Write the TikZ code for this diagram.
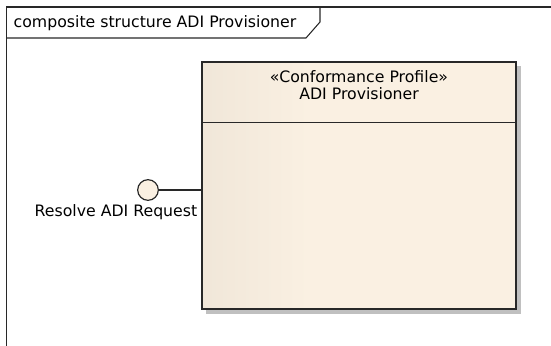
\documentclass[tikz,border=0pt]{standalone}
\usepackage{fontspec}
\setmainfont{DejaVu Sans}
\usetikzlibrary{positioning}
\definecolor{beigelight}{RGB}{250, 240, 226}
\definecolor{beigedark}{RGB}{226, 217, 203}
\definecolor{framegray}{RGB}{40, 40, 40}
\definecolor{shadowgray}{RGB}{192, 192, 192}
\pgfdeclarehorizontalshading{beigefade}{100bp}{color(0bp)=(beigedark); color(42bp)=(beigelight); color(100bp)=(beigelight)}
\tikzset{
  diagtext/.style={font=\fontsize{11.8}{12.3}\selectfont, text=black},
  classbox/.style={draw=framegray, line width=1.1pt, shading=beigefade,
                   minimum width=235.5pt, minimum height=185pt, inner sep=0pt},
  portcircle/.style={circle, draw=framegray, line width=0.9pt, fill=beigelight,
                     minimum size=15.5pt, inner sep=0pt},
}

\begin{document}
\begin{tikzpicture}[x=0.75pt, y=-0.75pt]
            \useasboundingbox (0,0) rectangle (551,346);
            % frame and its name tab
            \draw[framegray, line width=0.9pt] (6.5,346) -- (6.5,7) -- (551,7);
            \node[diagtext, anchor=west] (frametitle) at (9,23) {composite structure ADI Provisioner};
            \draw[framegray, line width=0.8pt] (6.5,38) -- (306,38) -- (320,22) -- (320,7);
            % the part with its shadow
            \fill[shadowgray]                                              (206,66) rectangle (521,314);
            \node[classbox] (prov) at (359,185.5) {};
            \draw[framegray, line width=1.1pt] ([yshift=-45.75pt]prov.north west) -- ([yshift=-45.75pt]prov.north east);
            \node[diagtext, align=center, anchor=north] (provname) at ([yshift=-3.5pt]prov.north)
                 {«Conformance Profile»\\ADI Provisioner};
            % provided interface
            \node[portcircle] (iface) at (148,190) {};
            \draw[framegray, line width=0.9pt] (iface) -- (iface -| prov.west);
            \node[diagtext, anchor=north, xshift=-24pt, yshift=0.5pt] (ifacelabel) at (iface.south) {Resolve ADI Request};
        \end{tikzpicture}
\end{document}
